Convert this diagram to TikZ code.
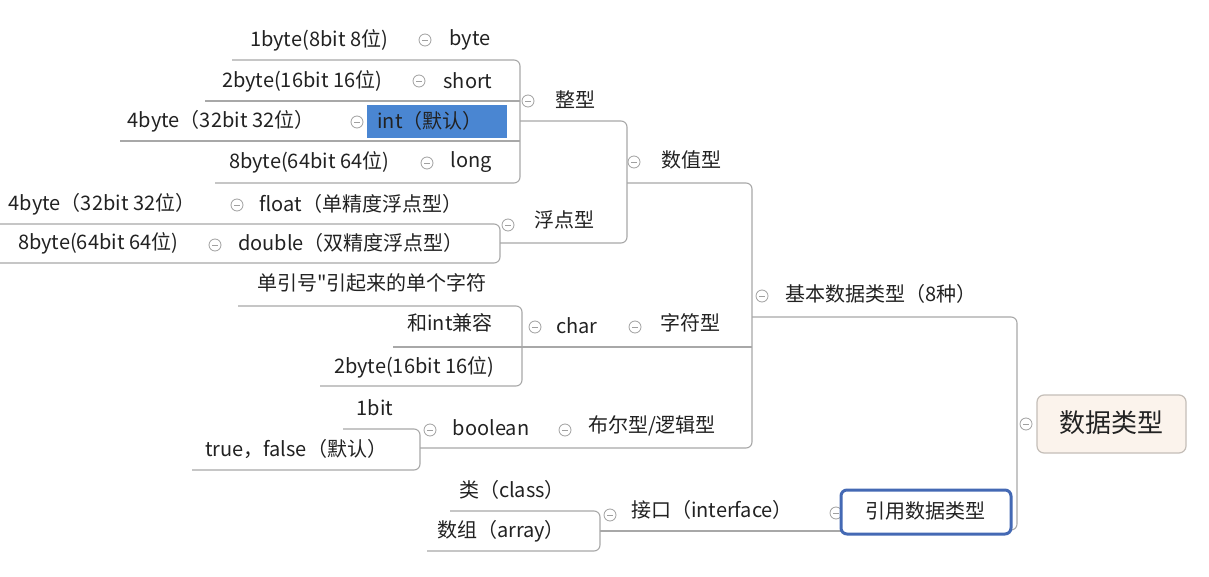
\documentclass[tikz,border=0pt]{standalone}
\usepackage{fontspec}
\setmainfont{Noto Sans CJK SC}
\newfontfamily\rawq[Ligatures=ResetAll]{Noto Sans CJK SC}
\definecolor{lineg}{HTML}{A8A8A8}
\definecolor{knobc}{HTML}{A0A0A0}
\definecolor{txt}{HTML}{222222}
\definecolor{intblue}{HTML}{4A86D2}
\definecolor{refblue}{HTML}{4469B4}
\definecolor{rootfill}{HTML}{FBF3EC}
\definecolor{rootdraw}{HTML}{C4BEB8}
\begin{document}
\begin{tikzpicture}[x=1pt,y=-1pt]
\tikzset{
 conn/.style={draw=lineg, line width=1.1pt, rounded corners=6pt},
 lbl/.style={inner sep=0pt, text=txt, font=\fontsize{20}{22}\selectfont},
 knob/.style={circle, draw=knobc, fill=white, line width=0.8pt, minimum size=12pt, inner sep=0pt,
   path picture={\draw[knobc, line width=0.8pt] ([xshift=-2.8pt]path picture bounding box.center) -- ([xshift=2.8pt]path picture bounding box.center);}}
}
\fill[white] (0,0) rectangle (1209,577);
\useasboundingbox (0,0) rectangle (1209,577);

% coordinates of the underline/connector corners
\coordinate (zA) at (232,60);  \coordinate (zB) at (520,60);
\coordinate (zC) at (520,183); \coordinate (zD) at (215,183);
\coordinate (sL) at (205,101); \coordinate (sR) at (520,101);
\coordinate (iL) at (120,141); \coordinate (iR) at (520,141);
\coordinate (zJ) at (520,121); \coordinate (zK) at (627,121);
\coordinate (fK) at (627,243); \coordinate (fJ) at (500,243);
\coordinate (fA) at (0,224);   \coordinate (fB) at (500,224);
\coordinate (fC) at (500,263); \coordinate (fD) at (0,263);
\coordinate (nJ) at (627,183); \coordinate (nK) at (752,183);
\coordinate (bK) at (752,448); \coordinate (bJ) at (420,448);
\coordinate (cJ) at (522,347); \coordinate (cK) at (752,347);
\coordinate (hL) at (393,347);
\coordinate (cA) at (238,306); \coordinate (cB) at (522,306);
\coordinate (cC) at (522,386); \coordinate (cD) at (320,386);
\coordinate (oA) at (343,429); \coordinate (oB) at (420,429);
\coordinate (oC) at (420,470); \coordinate (oD) at (192,470);
\coordinate (jJ) at (752,317); \coordinate (rV) at (1017,317);
\coordinate (rW) at (1017,530); \coordinate (rE) at (1006,530);
\coordinate (yA) at (450,511); \coordinate (yB) at (600,511);
\coordinate (yC) at (600,551); \coordinate (yD) at (427,551);
\coordinate (yJ) at (600,531); \coordinate (yK) at (842,531);

% connectors
\draw[conn] (zA) -- (zB) -- (zC) -- (zD);
\draw[conn] (sL) -- (sR);
\draw[conn] (iL) -- (iR);
\draw[conn] (zJ) -- (zK) -- (fK) -- (fJ);
\draw[conn] (fA) -- (fB) -- (fC) -- (fD);
\draw[conn] (nJ) -- (nK) -- (bK) -- (bJ);
\draw[conn] (hL) -- (cK);
\draw[conn] (cA) -- (cB) -- (cC) -- (cD);
\draw[conn] (oA) -- (oB) -- (oC) -- (oD);
\draw[conn] (jJ) -- (rV) -- (rW) -- (rE);
\draw[conn] (yA) -- (yB) -- (yC) -- (yD);
\draw[conn] (yJ) -- (yK);

% int highlight
\fill[intblue] (367,105) rectangle (507,138);

% collapse knobs
\node[knob] (k1) at (425,40) {};
\node[knob] (k2) at (419,81) {};
\node[knob] (k3) at (357,122) {};
\node[knob] (k4) at (427,163) {};
\node[knob] (k5) at (528,101) {};
\node[knob] (k6) at (237,205) {};
\node[knob] (k7) at (215,245) {};
\node[knob] (k8) at (508,225) {};
\node[knob] (k9) at (634,162) {};
\node[knob] (k10) at (535,327) {};
\node[knob] (k11) at (635,327) {};
\node[knob] (k12) at (430,430) {};
\node[knob] (k13) at (565,430) {};
\node[knob] (k14) at (762,296) {};
\node[knob] (k15) at (610,515) {};
\node[knob] (k16) at (836,513) {};
\node[knob] (k17) at (1026,424) {};

% boxes
\draw[refblue, line width=3pt, fill=white, rounded corners=6pt] (841,490) rectangle (1011,534);
\draw[rootdraw, line width=1.2pt, fill=rootfill, rounded corners=7pt] (1037,395) rectangle (1186,453);

% labels
\node[lbl] (b1) at (319,40) {1byte(8bit 8位)};
\node[lbl] (byte) at (470,40) {byte};
\node[lbl] (b2) at (302,81) {2byte(16bit 16位)};
\node[lbl] (short) at (468,81) {short};
\node[lbl] (b4) at (221,121) {4byte（32bit 32位）};
\node[lbl] (int) at (430,121) {int（默认）};
\node[lbl] (b8) at (309,162) {8byte(64bit 64位)};
\node[lbl] (long) at (471,162) {long};
\node[lbl] (zx) at (575,100) {整型};
\node[lbl] (f4) at (102,204) {4byte（32bit 32位）};
\node[lbl] (float) at (361,204) {float（单精度浮点型）};
\node[lbl] (d8) at (98,243) {8byte(64bit 64位)};
\node[lbl] (double) at (351,243) {double（双精度浮点型）};
\node[lbl] (fdx) at (564,220) {浮点型};
\node[lbl] (szx) at (691,160) {数值型};
\node[lbl] (dyh) at (372,283) {单引号{\rawq "}引起来的单个字符};
\node[lbl] (hint) at (450,323) {和int兼容};
\node[lbl] (c2) at (414,367) {2byte(16bit 16位)};
\node[lbl] (char) at (577,326) {char};
\node[lbl] (zfx) at (690,323) {字符型};
\node[lbl] (bit1) at (375,408) {1bit};
\node[lbl] (tf) at (296,449) {true，false（默认）};
\node[lbl] (bool) at (491,428) {boolean};
\node[lbl] (bex) at (652,426) {布尔型/逻辑型};
\node[lbl] (jb) at (881,294) {基本数据类型（8种）};
\node[lbl] (cls) at (512,490) {类（class）};
\node[lbl] (arr) at (501,531) {数组（array）};
\node[lbl] (itf) at (712,510) {接口（interface）};
\node[lbl] (ref) at (925,511) {引用数据类型};
\node[lbl, font=\fontsize{26}{29}\selectfont] (root) at (1111,423) {数据类型};
\end{tikzpicture}
\end{document}
